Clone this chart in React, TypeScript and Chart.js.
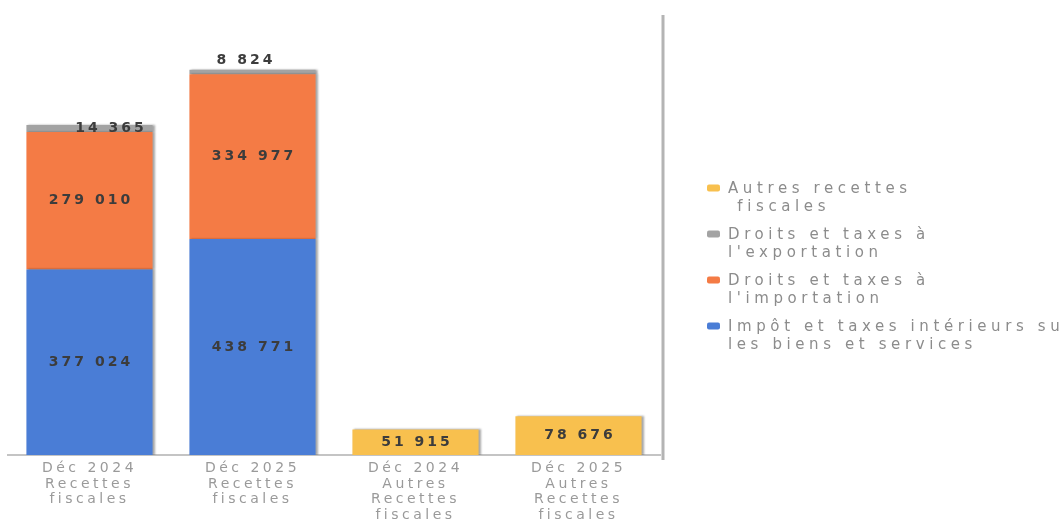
import React, { useEffect, useRef } from "react";
import { Chart, registerables } from "chart.js";

Chart.register(...registerables);

// ---------- data ----------
const categories: string[][] = [
  ["Déc 2024", "Recettes", "fiscales"],
  ["Déc 2025", "Recettes", "fiscales"],
  ["Déc 2024", "Autres", "Recettes", "fiscales"],
  ["Déc 2025", "Autres", "Recettes", "fiscales"],
];

const seriesNames = [
  "Impôt et taxes intérieurs sur les biens et services",
  "Droits et taxes à l'importation",
  "Droits et taxes à l'exportation",
  "Autres recettes fiscales",
];

const interieurs: (number | null)[] = [377024, 438771, null, null];
const importation: (number | null)[] = [279010, 334977, null, null];
const exportation: (number | null)[] = [14365, 8824, null, null];
const autres: (number | null)[] = [null, null, 51915, 78676];

const legendLines: string[][] = [
  ["Impôt et taxes intérieurs sur", "les biens et services"],
  ["Droits et taxes à", "l'importation"],
  ["Droits et taxes à", "l'exportation"],
  ["Autres recettes", " fiscales"],
];

const colors = ["#4a7dd6", "#f47b45", "#a3a3a3", "#f8c04e"];
const yMax = 894000;

const fmt = (v: number) => v.toString().replace(/\B(?=(\d{3})+(?!\d))/g, " ");

const decorPlugin = {
  id: "decor",
  beforeDraw(chart: any) {
    chart.ctx.letterSpacing = "3.5px";
  },
  beforeDatasetsDraw(chart: any) {
    const ctx = chart.ctx;
    ctx.save();
    ctx.shadowColor = "rgba(0,0,0,0.35)";
    ctx.shadowOffsetX = 2;
    ctx.shadowOffsetY = 0;
    ctx.shadowBlur = 2;
  },
  afterDatasetsDraw(chart: any) {
    const ctx = chart.ctx;
    ctx.restore();
    ctx.save();
    ctx.letterSpacing = "3px";
    ctx.font = 'bold 14px "DejaVu Sans"';
    ctx.fillStyle = "#3c3c3c";
    ctx.textAlign = "center";
    ctx.textBaseline = "middle";
    chart.data.datasets.forEach((ds: any, di: number) => {
      const meta = chart.getDatasetMeta(di);
      meta.data.forEach((bar: any, i: number) => {
        const v = ds.data[i];
        if (v == null) return;
        let x = bar.x + 1.5;
        let y = (bar.y + bar.base) / 2;
        if (di === 2) {
          if (i === 0) {
            x += 20;
            y += 0;
          } else {
            x -= 8;
            y = bar.y - 9;
          }
        }
        ctx.fillText(fmt(v), x, y);
      });
    });
    ctx.restore();
  },
  afterDraw(chart: any) {
    const ctx = chart.ctx;
    const area = chart.chartArea;
    ctx.save();
    // vertical separator
    ctx.strokeStyle = "#b4b4b4";
    ctx.lineWidth = 3;
    ctx.beginPath();
    ctx.moveTo(area.right + 3, area.top);
    ctx.lineTo(area.right + 3, area.bottom + 5);
    ctx.stroke();

    // legend
    const sx = area.right + 47;
    const tx = sx + 21;
    const startY = chart.height / 2 - 73;
    ctx.font = '15px "DejaVu Sans"';
    ctx.letterSpacing = "4.6px";
    ctx.textAlign = "left";
    ctx.textBaseline = "middle";
    const order = [3, 2, 1, 0];
    order.forEach((di, k) => {
      const top = startY + k * 46;
      ctx.fillStyle = colors[di];
      ctx.beginPath();
      (ctx as any).roundRect(sx, top - 5, 13, 7, 2);
      ctx.fill();
      ctx.fillStyle = "#8c8c8c";
      legendLines[di].forEach((ln, j) => {
        ctx.fillText(ln, tx, top + j * 18);
      });
    });
    ctx.restore();
  },
};

export default function App() {
  const ref = useRef<HTMLCanvasElement | null>(null);

  useEffect(() => {
    document.body.style.margin = "0";
    if (!ref.current) return;
    const series = [interieurs, importation, exportation, autres];
    const chart = new Chart(ref.current, {
      type: "bar",
      data: {
        labels: categories,
        datasets: series.map((d, i) => ({
          label: seriesNames[i],
          data: d,
          backgroundColor: colors[i],
          borderWidth: 0,
          barPercentage: 0.86,
          categoryPercentage: 0.9,
        })),
      },
      options: {
        animation: false,
        responsive: true,
        maintainAspectRatio: false,
        layout: { padding: { left: 8, right: 402, top: 15, bottom: 0 } },
        plugins: {
          legend: { display: false },
          tooltip: { enabled: false },
        },
        scales: {
          x: {
            stacked: true,
            grid: { display: false, drawTicks: false },
            border: { display: true, color: "#c4c4c4", width: 2 },
            ticks: {
              color: "#9a9a9a",
              font: { family: '"DejaVu Sans"', size: 14, lineHeight: 1.1 },
              padding: 6,
              maxRotation: 0,
              autoSkip: false,
            },
            afterFit: (scale: any) => {
              scale.height = 70;
            },
          },
          y: {
            stacked: true,
            display: false,
            min: 0,
            max: yMax,
          },
        },
      },
      plugins: [decorPlugin],
    });
    return () => chart.destroy();
  }, []);

  return (
    <div style={{ position: "relative", width: 1062, height: 525 }}>
      <canvas ref={ref} />
    </div>
  );
}
